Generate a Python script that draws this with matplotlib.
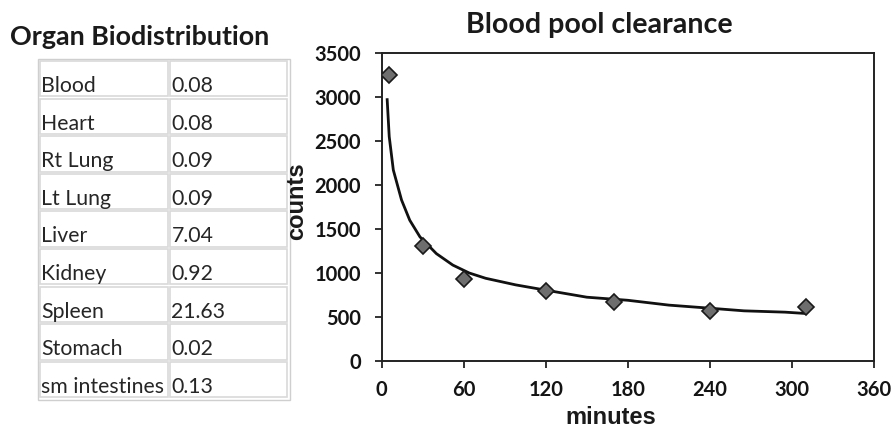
import matplotlib.pyplot as plt
from matplotlib.patches import Rectangle

# organ table
organs = ["Blood", "Heart", "Rt Lung", "Lt Lung", "Liver", "Kidney",
          "Spleen", "Stomach", "sm intestines"]
organ_values = ["0.08", "0.08", "0.09", "0.09", "7.04", "0.92",
                "21.63", "0.02", "0.13"]

# measured blood counts
sample_minutes = [5, 30, 60, 120, 170, 240, 310]
sample_counts = [3250, 1310, 930, 800, 673, 570, 616]

# trend line as drawn in the original
fit_minutes = [4, 5.5, 8.5, 14.5, 20.5, 28, 40, 52, 64, 76, 98, 120, 150,
               180, 210, 240, 265, 295, 310]
fit_counts = [2970, 2550, 2170, 1830, 1600, 1410, 1220, 1090, 1000, 940,
              865, 805, 725, 690, 635, 600, 570, 555, 540]

x_ticks = [0, 60, 120, 180, 240, 300, 360]
y_ticks = [0, 500, 1000, 1500, 2000, 2500, 3000, 3500]

W, H = 893, 428
fig = plt.figure(figsize=(W / 100, H / 100), dpi=100)
fig.patch.set_facecolor("white")


def draw_table(tax):
    # pixel layout of the html-style table
    tax.set_xlim(0, 330)
    tax.set_ylim(H, 0)
    tax.axis("off")
    top, bottom = 59, 399.5
    left, right = 38, 289.5
    split = 169
    tax.add_patch(Rectangle((left, top), right - left, bottom - top,
                            fill=False, ec="#cfcfcf", lw=1.0))
    row_h = (bottom - top - 2) / len(organs)
    for i, (name, val) in enumerate(zip(organs, organ_values)):
        y0 = top + 2 + i * row_h
        h = row_h - 2.2
        for x0, x1 in [(left + 2, split - 1), (split + 1, right - 2.5)]:
            tax.add_patch(Rectangle((x0, y0), x1 - x0, h, fill=False,
                                    ec="#d9d9d9", lw=1.2))
        base = y0 + h - 4.5
        tax.text(left + 3, base, name, fontsize=15.3, family="Lato",
                 color="#262626", va="baseline", ha="left")
        tax.text(split + 2.5, base, val, fontsize=15.3, family="Lato",
                 color="#262626", va="baseline", ha="left")


tax = fig.add_axes([0, 0, 330 / W, 1])
draw_table(tax)
fig.text(10 / W, 1 - 45 / H, "Organ Biodistribution", fontsize=19.4,
         family="Lato", weight="bold", color="#1a1a1a", va="baseline")

ax = fig.add_axes([381.7 / W, 1 - 361 / H, (874 - 381.7) / W, (361 - 53) / H])
ax.plot(fit_minutes, fit_counts, color="#111111", lw=2.0, zorder=2)
ax.plot(sample_minutes, sample_counts, ls="none", marker="D", ms=8.5,
        mfc="#6e6e6e", mec="#1a1a1a", mew=1.2, zorder=3)

ax.set_xlim(0, 360)
ax.set_ylim(0, 3500)
ax.set_xticks(x_ticks)
ax.set_yticks(y_ticks)
for s in ax.spines.values():
    s.set_linewidth(1.4)
    s.set_color("#222222")
ax.tick_params(direction="out", length=5, width=1.3, color="#222222")
ax.tick_params(axis="y", pad=10)
ax.tick_params(axis="x", pad=9)
for lab in ax.get_xticklabels() + ax.get_yticklabels():
    lab.set_fontfamily("Lato")
    lab.set_fontweight("bold")
    lab.set_fontsize(14.5)
    lab.set_color("#141414")

ax.set_xlabel("minutes", fontsize=17, weight="bold",
              family="Liberation Sans", color="#1a1a1a")
ax.set_ylabel("counts", fontsize=17, weight="bold",
              family="Liberation Sans", color="#1a1a1a")
ax.xaxis.set_label_coords(0.466, -0.145)
ax.yaxis.set_label_coords(-0.15, 0.52)

fig.text(599 / W, 1 - 33 / H, "Blood pool clearance", fontsize=20.6,
         family="Lato", weight="bold", color="#1a1a1a", ha="center",
         va="baseline")

fig.savefig("out.png", dpi=100, facecolor="white")
